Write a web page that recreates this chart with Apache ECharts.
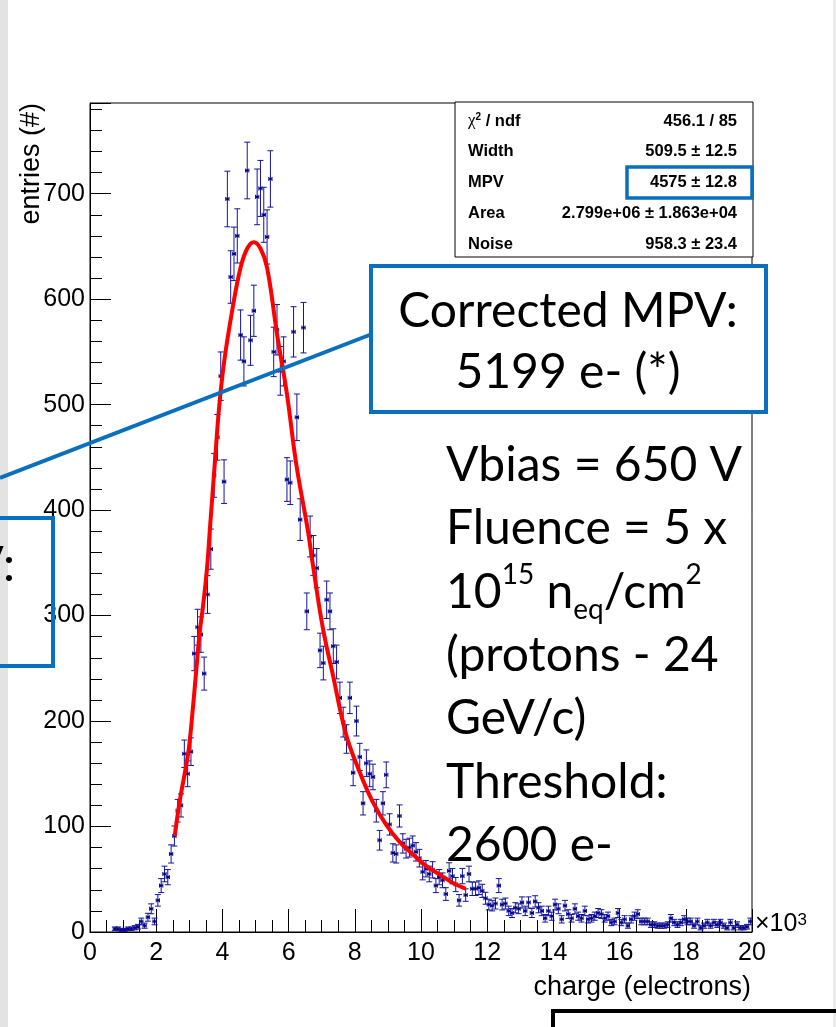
<!DOCTYPE html>
<html>
<head>
<meta charset="utf-8">
<script src="https://cdn.jsdelivr.net/npm/echarts@6/dist/echarts.min.js"></script>
<style>
html,body{margin:0;padding:0;background:#fff;}
#chart{width:836px;height:1027px;}
</style>
</head>
<body>
<div id="chart"></div>
<script>
// ---------------- DATA ----------------
// histogram: bins of 100 electrons (axis in units of 10^3), first bin starts at 0.7
const binStart = 0.7;
const binWidth = 0.1;
const counts = [
  3,3,2,2,3,3,4,5,10,6,14,22,10,30,44,55,52,74,91,115,
  120,169,150,171,264,289,282,245,320,363,433,469,527,427,695,621,643,660,566,541,
  722,561,589,697,705,680,659,714,550,571,532,541,429,426,569,488,391,573,304,375,
  357,345,267,255,315,304,271,256,222,199,183,222,151,200,166,122,160,150,147,115,
  87,122,149,102,75,74,110,84,79,80,82,76,70,57,60,55,59,44,52,49,
  36,58,53,45,30,53,35,55,41,41,42,39,32,26,25,27,44,26,27,20,
  18,23,22,28,20,28,18,29,23,20,13,20,15,26,22,12,25,17,13,22,
  15,13,20,12,13,15,18,17,13,15,9,10,18,9,12,6,12,15,17,10,
  10,10,7,7,6,6,6,7,13,9,7,9,12,10,10,6,10,4,6,9,
  6,9,7,9,6,4,9,4,7,4,4,5,10
];
// fit curve (Landau (x) Gauss)
const fitX = [2.56,2.71,2.86,2.99,3.11,3.21,3.31,3.41,3.53,3.62,3.77,3.9,4.05,4.3,4.55,4.75,4.95,5.15,5.35,5.65,5.95,6.23,6.58,6.73,7.03,7.33,7.73,8.13,8.53,8.94,9.34,9.74,10.14,10.54,10.94,11.35];
const fitY = [91,124,150,175,213,248,283,308,343,381,444,497,540,590,630,648,654,648,630,567,510,444,381,349,289,245,188,153,124,102,86,74,63,55,47,41];
const xTicks = [0,2,4,6,8,10,12,14,16,18,20];
const yTicks = [0,100,200,300,400,500,600,700];
const statNames = ['{chi|χ}{sup|2}{b| / ndf}', 'Width', 'MPV', 'Area', 'Noise'];
const statValues = ['456.1 / 85', '509.5 ± 12.5', '4575 ± 12.8', '2.799e+06 ± 1.863e+04', '958.3 ± 23.4'];
const boxLines = ['Corrected MPV:', '5199 e- (*)'];
const noteLines = ['Vbias = 650 V', 'Fluence = 5 x', '{n|10}{sup|15}{n| n}{sub|eq}{n|/cm}{sup|2}', '(protons - 24', 'GeV/c)', 'Threshold:', '2600 e-'];

// ---------------- BUILD ----------------
const histData = counts.map((c, i) => [binStart + binWidth * (i + 0.5), c, Math.sqrt(c)]);
const fitData = fitX.map((x, i) => [x, fitY[i]]);
const ERR = '#14149a';
const BLUE = '#0b6fbf';
const SANS = '"Liberation Sans", Arial, sans-serif';
const BIG = 'Lato, "Open Sans", sans-serif';

const chart = echarts.init(document.getElementById('chart'), null, {renderer: 'canvas'});

function errRender(params, api) {
  const x = api.value(0), y = api.value(1), e = api.value(2);
  const c = api.coord([x, y]);
  const t = api.coord([x, y + e]);
  const b = api.coord([x, Math.max(0, y - e)]);
  const l = api.coord([x - binWidth / 2, y]);
  const r = api.coord([x + binWidth / 2, y]);
  const st = {stroke: ERR, lineWidth: 1};
  return {
    type: 'group',
    children: [
      {type: 'line', shape: {x1: c[0], y1: t[1], x2: c[0], y2: b[1]}, style: st},
      {type: 'line', shape: {x1: c[0] - 3, y1: t[1], x2: c[0] + 3, y2: t[1]}, style: st},
      {type: 'line', shape: {x1: c[0] - 3, y1: b[1], x2: c[0] + 3, y2: b[1]}, style: st},
      {type: 'line', shape: {x1: l[0], y1: c[1], x2: r[0], y2: c[1]}, style: st},
      {type: 'line', shape: {x1: l[0], y1: c[1] - 2, x2: l[0], y2: c[1] + 2}, style: st},
      {type: 'line', shape: {x1: r[0], y1: c[1] - 2, x2: r[0], y2: c[1] + 2}, style: st},
      {type: 'rect', shape: {x: c[0] - 1.2, y: c[1] - 1.2, width: 2.4, height: 2.4}, style: {fill: '#000080'}}
    ]
  };
}

// stats box
const statTop = 102, statLeft = 455, statRight = 753, statBottom = 257;
const statChildren = [
  {type: 'rect', shape: {x: statLeft, y: statTop, width: statRight - statLeft, height: statBottom - statTop},
   style: {fill: '#fff', stroke: '#000', lineWidth: 1}}
];
const rowY = [121, 151, 182, 213, 244];
statNames.forEach((n, i) => {
  statChildren.push({type: 'text', x: 468, y: rowY[i], style: {
    text: n, fill: '#000', font: 'bold 16.5px ' + SANS, verticalAlign: 'middle', align: 'left',
    rich: {
      chi: {fontSize: 17, fontFamily: 'Liberation Serif', fill: '#000'},
      sup: {fontSize: 10, fontWeight: 'bold', fontFamily: 'Liberation Sans', verticalAlign: 'top', lineHeight: 14, fill: '#000'},
      b: {fontSize: 16.5, fontWeight: 'bold', fontFamily: 'Liberation Sans', fill: '#000'}
    }
  }});
  statChildren.push({type: 'text', x: 737, y: rowY[i], style: {
    text: statValues[i], fill: '#000', font: 'bold 16.5px ' + SANS, verticalAlign: 'middle', align: 'right'
  }});
});
// highlight box around MPV value
statChildren.push({type: 'rect', shape: {x: 627, y: 167, width: 125, height: 31},
  style: {fill: 'none', stroke: BLUE, lineWidth: 3.5}});

const option = {
  animation: false,
  backgroundColor: '#ffffff',
  grid: {left: 90, top: 103, right: 84, bottom: 95, show: true, borderColor: '#000', borderWidth: 1, backgroundColor: 'transparent'},
  xAxis: {
    type: 'value', min: xTicks[0], max: xTicks[xTicks.length - 1], interval: 2,
    axisLine: {show: true, onZero: false, lineStyle: {color: '#000', width: 1}},
    axisTick: {show: true, inside: true, length: 23, lineStyle: {color: '#000', width: 1}},
    minorTick: {show: true, splitNumber: 4, length: 12, lineStyle: {color: '#000', width: 1}},
    axisLabel: {fontSize: 25, color: '#000', fontFamily: 'Liberation Sans', margin: 9,
      formatter: v => (xTicks.indexOf(v) >= 0 ? String(v) : '')},
    splitLine: {show: false}
  },
  yAxis: {
    type: 'value', min: 0, max: 786, interval: 100,
    axisLine: {show: true, lineStyle: {color: '#000', width: 1}},
    axisTick: {show: true, inside: true, length: 21, lineStyle: {color: '#000', width: 1}},
    minorTick: {show: true, splitNumber: 5, length: 12, lineStyle: {color: '#000', width: 1}},
    axisLabel: {fontSize: 25, color: '#000', fontFamily: 'Liberation Sans', margin: 5, showMaxLabel: false,
      formatter: v => (yTicks.indexOf(v) >= 0 ? String(v) : '')},
    splitLine: {show: false}
  },
  series: [
    {type: 'custom', name: 'data', renderItem: errRender, data: histData, z: 3, clip: true,
      encode: {x: 0, y: 1}},
    {type: 'line', name: 'fit', data: fitData, smooth: 0.4, showSymbol: false, z: 4,
      lineStyle: {color: '#ff0000', width: 4}}
  ],
  graphic: [
    // slide edges
    {type: 'rect', shape: {x: 0, y: 0, width: 8, height: 1027}, style: {fill: '#e3e3e3'}, z: 1},
    {type: 'rect', shape: {x: 833, y: 0, width: 3, height: 1027}, style: {fill: '#ececec'}, z: 1},
    // axis titles
    {type: 'text', x: 751, y: 988, z: 10, style: {text: 'charge (electrons)', font: '27px ' + SANS, fill: '#000', align: 'right', verticalAlign: 'middle'}},
    {type: 'text', x: 32, y: 103, rotation: Math.PI / 2, z: 10, style: {text: 'entries (#)', font: '27px ' + SANS, fill: '#000', align: 'right', verticalAlign: 'middle'}},
    {type: 'text', x: 755, y: 924, z: 10, style: {text: '×10{s|3}', font: '25px ' + SANS, fill: '#000', align: 'left', verticalAlign: 'middle',
      rich: {s: {fontSize: 17, fontFamily: 'Liberation Sans', verticalAlign: 'top', lineHeight: 20, fill: '#000'}}}},
    // stats box
    {type: 'group', z: 20, children: statChildren},
    // corrected MPV box
    {type: 'rect', z: 30, shape: {x: 371, y: 266, width: 395, height: 146}, style: {fill: '#fff', stroke: BLUE, lineWidth: 4}},
    {type: 'text', z: 31, x: 568, y: 281, style: {text: boxLines.join('\n'), font: '48px ' + BIG, fill: '#000', align: 'center', verticalAlign: 'top', lineHeight: 61}},
    // pointer line
    {type: 'line', z: 30, shape: {x1: 0, y1: 478, x2: 372, y2: 334}, style: {stroke: BLUE, lineWidth: 4}},
    // left partial box
    {type: 'rect', z: 30, shape: {x: -20, y: 518, width: 73, height: 148}, style: {fill: 'none', stroke: BLUE, lineWidth: 4}},
    {type: 'text', z: 31, x: 15, y: 566, style: {text: 'MPV:', font: '48px ' + BIG, fill: '#000', align: 'right', verticalAlign: 'middle'}},
    // notes
    {type: 'text', z: 31, x: 446, y: 434, style: {text: noteLines.join('\n'), font: '48px ' + BIG, fill: '#000', align: 'left', verticalAlign: 'top', lineHeight: 63.3,
      rich: {
        n: {fontSize: 48, fontFamily: 'Lato', lineHeight: 63.3, fill: '#000'},
        sup: {fontSize: 28, fontFamily: 'Lato', lineHeight: 28, verticalAlign: 'top', fill: '#000'},
        sub: {fontSize: 28, fontFamily: 'Lato', lineHeight: 28, verticalAlign: 'bottom', fill: '#000'}
      }}},
    // bottom-right black box
    {type: 'rect', z: 30, shape: {x: 553, y: 1011, width: 300, height: 60}, style: {fill: 'none', stroke: '#000', lineWidth: 4}}
  ]
};
chart.setOption(option);
</script>
</body>
</html>
